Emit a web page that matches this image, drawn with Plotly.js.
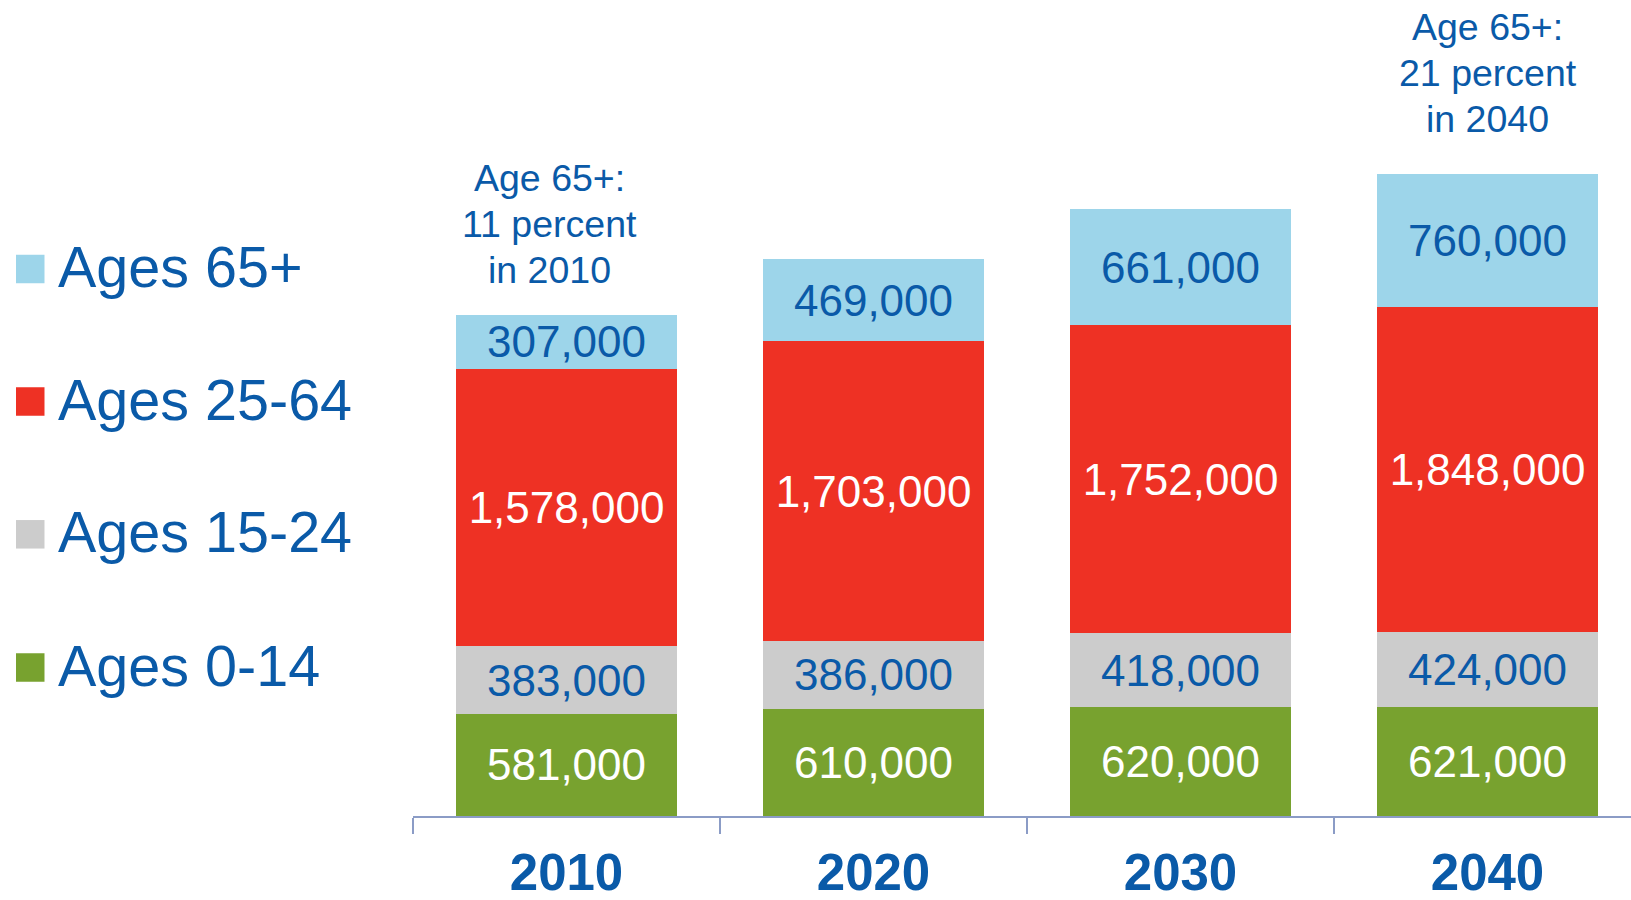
<!DOCTYPE html>
<html>
<head>
<meta charset="utf-8">
<script src="https://cdn.plot.ly/plotly-3.0.1.min.js"></script>
<style>
  html, body { margin: 0; padding: 0; background: #ffffff; }
  #chart { width: 1631px; height: 900px; }
</style>
</head>
<body>
<div id="chart"></div>
<script>
// ---- data ----
const years = ['2010', '2020', '2030', '2040'];
const ages0to14 = [581000, 610000, 620000, 621000];
const ages15to24 = [383000, 386000, 418000, 424000];
const ages25to64 = [1578000, 1703000, 1752000, 1848000];
const ages65plus = [307000, 469000, 661000, 760000];
const seriesNames = ['Ages 65+', 'Ages 25-64', 'Ages 15-24', 'Ages 0-14'];
const noteYears = ['2010', '2040'];
const noteLines = [
  ['Age 65+:', '11 percent', 'in 2010'],
  ['Age 65+:', '21 percent', 'in 2040']
];

// ---- styles ----
const FONT = 'Liberation Sans, Arial, sans-serif';
const BLUE_TEXT = '#0a5aa8';
const colors = {
  '65': '#9dd5ea',
  '25': '#ee3124',
  '15': '#cccccc',
  '0': '#78a22f'
};
const W = 1631, H = 900, ML = 413, MR = 0, MT = 0, MB = 84;
const PW = W - ML - MR, PH = H - MT - MB;
const px2x = px => (px - ML) / PW;
const py2y = py => (H - MB - py) / PH;

function barTrace(name, y, color, textColor) {
  return {
    type: 'bar',
    x: years,
    y: y,
    name: name,
    marker: { color: color, line: { width: 0 } },
    texttemplate: '%{y:,.0f}',
    textposition: 'inside',
    insidetextanchor: 'middle',
    constraintext: 'none',
    insidetextfont: { family: FONT, size: 44, color: textColor },
    hoverinfo: 'skip',
    showlegend: false
  };
}

const data = [
  barTrace(seriesNames[3], ages0to14, colors['0'], '#ffffff'),
  barTrace(seriesNames[2], ages15to24, colors['15'], BLUE_TEXT),
  barTrace(seriesNames[1], ages25to64, colors['25'], '#ffffff'),
  barTrace(seriesNames[0], ages65plus, colors['65'], BLUE_TEXT)
];

// manual legend (large swatches)
const legendColors = [colors['65'], colors['25'], colors['15'], colors['0']];
const legendCentersPx = [269, 401.5, 534.3, 667.5];
const swatch = 28.5;
const shapes = [];
const annotations = [];
seriesNames.forEach((n, i) => {
  const cy = legendCentersPx[i];
  shapes.push({
    type: 'rect', xref: 'paper', yref: 'paper',
    x0: px2x(16), x1: px2x(16 + swatch),
    y0: py2y(cy + swatch / 2), y1: py2y(cy - swatch / 2),
    fillcolor: legendColors[i], line: { width: 0 }
  });
  annotations.push({
    xref: 'paper', yref: 'paper',
    x: px2x(55.5), y: py2y(cy - 2),
    xanchor: 'left', yanchor: 'middle',
    text: n, showarrow: false,
    font: { family: FONT, size: 57.5, color: BLUE_TEXT }
  });
});

// notes above bars (one annotation per line for tighter line spacing)
const noteFirstLinePx = [178, 27];
const noteLineGap = 45.8;
const noteShift = [-17, 0];
noteYears.forEach((yr, i) => {
  noteLines[i].forEach((line, j) => {
    annotations.push({
      xref: 'x', yref: 'paper',
      x: years.indexOf(yr), y: py2y(noteFirstLinePx[i] + j * noteLineGap),
      xshift: noteShift[i],
      xanchor: 'center', yanchor: 'middle',
      text: line, showarrow: false, align: 'center',
      font: { family: FONT, size: 37.5, color: BLUE_TEXT }
    });
  });
});

const layout = {
  width: W, height: H,
  margin: { l: ML, r: MR, t: MT, b: MB, pad: 0 },
  paper_bgcolor: '#ffffff',
  plot_bgcolor: '#ffffff',
  barmode: 'stack',
  bargap: 0.283,
  showlegend: false,
  font: { family: FONT, color: BLUE_TEXT },
  xaxis: {
    type: 'category',
    range: [-0.5, -0.5 + PW / 307],
    showgrid: false,
    zeroline: false,
    showline: true,
    linecolor: '#8b9cc6',
    linewidth: 2,
    ticks: 'outside',
    tickson: 'boundaries',
    ticklen: 16,
    tickwidth: 1.5,
    tickcolor: '#8b9cc6',
    ticklabelstandoff: 11,
    tickfont: { family: FONT, size: 51, color: BLUE_TEXT, weight: 'bold' },
    fixedrange: true
  },
  yaxis: {
    range: [0, 4640000],
    visible: false,
    showgrid: false,
    zeroline: false,
    fixedrange: true
  },
  shapes: shapes,
  annotations: annotations
};

Plotly.newPlot('chart', data, layout, { displayModeBar: false, staticPlot: true });
</script>
</body>
</html>
